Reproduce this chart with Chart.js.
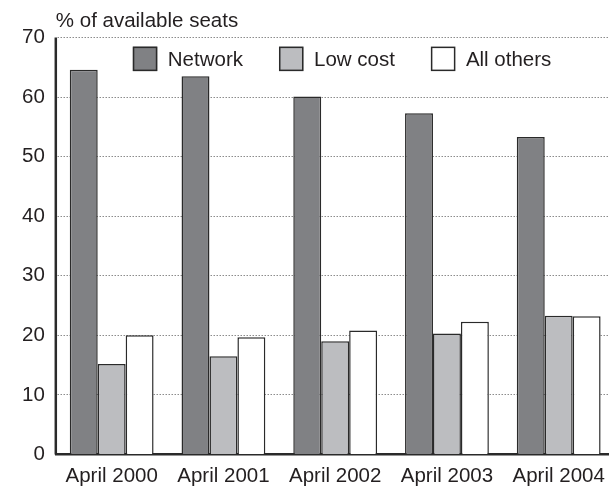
<!DOCTYPE html>
<html>
<head>
<meta charset="utf-8">
<script src="https://cdn.jsdelivr.net/npm/chart.js@4/dist/chart.umd.min.js"></script>
<style>
  html, body { margin: 0; padding: 0; background: #fff; overflow: hidden; }
  #wrap { position: relative; width: 616px; height: 486px; }
</style>
</head>
<body>
<div id="wrap"><canvas id="c"></canvas></div>
<script>
const categories = ['April 2000', 'April 2001', 'April 2002', 'April 2003', 'April 2004'];
const seriesNames = ['Network', 'Low cost', 'All others'];
const network = [64.6, 63.5, 60.1, 57.3, 53.3];
const lowCost = [15.2, 16.5, 19.0, 20.3, 23.3];
const allOthers = [20.0, 19.7, 20.8, 22.3, 23.2];
const yTitle = '% of available seats';
const yMin = 0, yMax = 70, yStep = 10;

const FONT = '"Liberation Sans", Arial, Helvetica, sans-serif';
const TEXT = '#231f20';
const EDGE = '#2a2a2a';
const fills = ['#808184', '#bcbdc0', '#ffffff'];

const innerLegend = {
  id: 'innerLegend',
  afterDatasetsDraw(chart) {
    const { ctx, chartArea } = chart;
    const box = 24.5, gap = 10.5, itemGap = 36;
    ctx.save();
    ctx.font = '20.5px ' + FONT;
    ctx.textBaseline = 'middle';
    ctx.textAlign = 'left';
    let x = chartArea.left + 77;
    const top = chartArea.top + 9;
    chart.data.datasets.forEach(ds => {
      ctx.fillStyle = ds.backgroundColor;
      ctx.fillRect(x, top, box, box);
      ctx.lineWidth = 1.5;
      ctx.strokeStyle = EDGE;
      ctx.strokeRect(x + 0.75, top + 0.75, box - 1.5, box - 1.5);
      ctx.fillStyle = TEXT;
      ctx.fillText(ds.label, x + box + gap, top + box / 2 + 1.5);
      x += box + gap + ctx.measureText(ds.label).width + itemGap;
    });
    ctx.restore();
  }
};

const yAxisLine = {
  id: 'yAxisLine',
  beforeDatasetsDraw(chart) {
    const { ctx, chartArea } = chart;
    ctx.save();
    ctx.strokeStyle = EDGE;
    ctx.lineWidth = 2.5;
    ctx.beginPath();
    ctx.moveTo(chartArea.left, chartArea.top);
    ctx.lineTo(chartArea.left, chartArea.bottom);
    ctx.stroke();
    ctx.restore();
  }
};

new Chart(document.getElementById('c'), {
  type: 'bar',
  data: {
    labels: categories,
    datasets: [
      { label: seriesNames[0], data: network, backgroundColor: fills[0] },
      { label: seriesNames[1], data: lowCost, backgroundColor: fills[1] },
      { label: seriesNames[2], data: allOthers, backgroundColor: fills[2] }
    ].map(d => Object.assign(d, {
      borderColor: EDGE, borderWidth: 1.5, borderSkipped: 'start',
      categoryPercentage: 0.75, barPercentage: 1.0
    }))
  },
  options: {
    responsive: true,
    maintainAspectRatio: false,
    animation: false,
    devicePixelRatio: 1,
    layout: { padding: { left: 11, right: 1, top: 0, bottom: -13 } },
    plugins: {
      legend: { display: false },
      tooltip: { enabled: false },
      title: {
        display: true, text: yTitle, align: 'start', fullSize: false,
        color: TEXT, font: { family: FONT, size: 20.5, weight: 'normal' },
        padding: { top: 9, bottom: 4 }
      }
    },
    scales: {
      x: {
        z: 1,
        grid: { display: true, color: 'rgba(0,0,0,0)', drawTicks: false },
        border: { display: true, color: EDGE, width: 2.5 },
        ticks: { color: TEXT, padding: 11, font: { family: FONT, size: 20.5, lineHeight: 1.1 }, maxRotation: 0 }
      },
      y: {
        min: yMin, max: yMax,
        grid: { color: '#8c8c8c', lineWidth: 1, drawTicks: false },
        border: { display: true, color: 'rgba(0,0,0,0)', width: 2.5, dash: [1.5, 1.5] },
        ticks: { stepSize: yStep, color: TEXT, padding: 11, font: { family: FONT, size: 20.5 } }
      }
    }
  },
  plugins: [innerLegend, yAxisLine]
});
</script>
</body>
</html>
